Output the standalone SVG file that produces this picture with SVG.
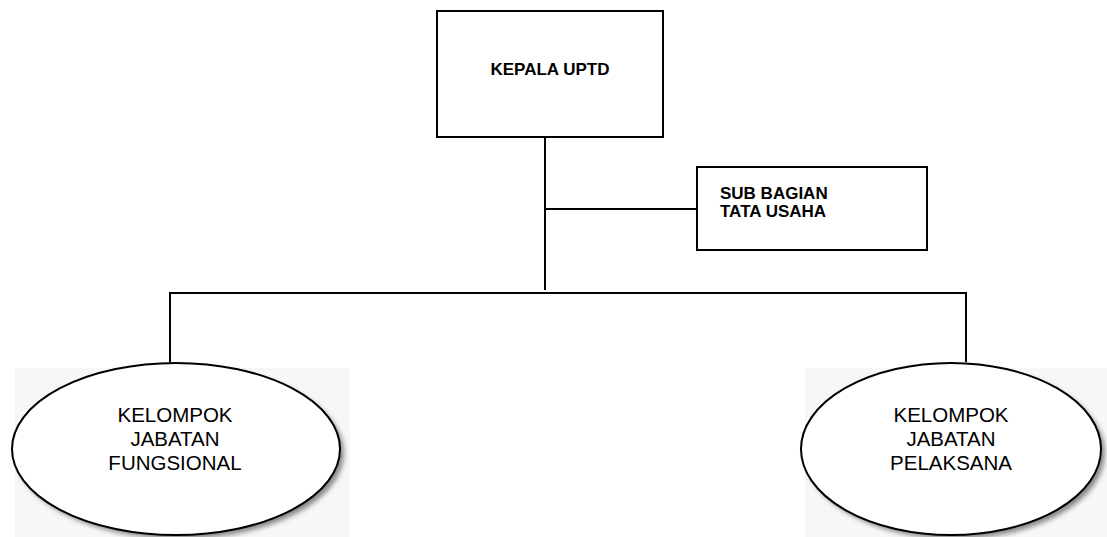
<svg xmlns="http://www.w3.org/2000/svg" width="1107" height="537" viewBox="0 0 1107 537">
<defs>
<filter id="sh" x="-20%" y="-20%" width="140%" height="140%"><feGaussianBlur stdDeviation="2.5"/></filter>
<style>
.box{fill:#fff;stroke:#000;stroke-width:2}
.ell{fill:#fff;stroke:#000;stroke-width:2}
.shd{fill:#888;filter:url(#sh)}
.bg{fill:#f7f7f7}
.ln{stroke:#000;stroke-width:2;fill:none}
.tb{font-family:"Liberation Sans",Arial,sans-serif;font-weight:bold;font-size:17px;fill:#000}
.tr{font-family:"Liberation Sans",Arial,sans-serif;font-size:20.5px;fill:#000;text-anchor:middle}
</style>
</defs>
<rect width="1107" height="537" fill="#fff"/>
<g id="connectors">
<line class="ln" x1="545" y1="137" x2="545" y2="290"/>
<line class="ln" x1="545" y1="209" x2="697" y2="209"/>
<polyline class="ln" points="170,362 170,293 966,293 966,362"/>
</g>
<g id="kepala">
<rect class="box" x="437" y="11" width="226" height="126"/>
<text class="tb" x="550" y="75" text-anchor="middle">KEPALA UPTD</text>
</g>
<g id="subbagian">
<rect class="box" x="697" y="167" width="230" height="83"/>
<text class="tb" x="720" y="199">SUB BAGIAN</text>
<text class="tb" x="720" y="217">TATA USAHA</text>
</g>
<g id="fungsional">
<rect class="bg" x="15" y="368" width="335" height="169"/>
<ellipse class="shd" cx="180" cy="453" rx="164" ry="86"/>
<ellipse class="ell" cx="176" cy="449" rx="164" ry="86"/>
<text class="tr" x="175" y="422">KELOMPOK</text>
<text class="tr" x="175" y="446">JABATAN</text>
<text class="tr" x="175" y="470">FUNGSIONAL</text>
</g>
<g id="pelaksana">
<rect class="bg" x="805" y="368" width="302" height="169"/>
<ellipse class="shd" cx="955" cy="453" rx="150" ry="86"/>
<ellipse class="ell" cx="951" cy="449" rx="150" ry="86"/>
<text class="tr" x="951" y="422">KELOMPOK</text>
<text class="tr" x="951" y="446">JABATAN</text>
<text class="tr" x="951" y="470">PELAKSANA</text>
</g>
</svg>
